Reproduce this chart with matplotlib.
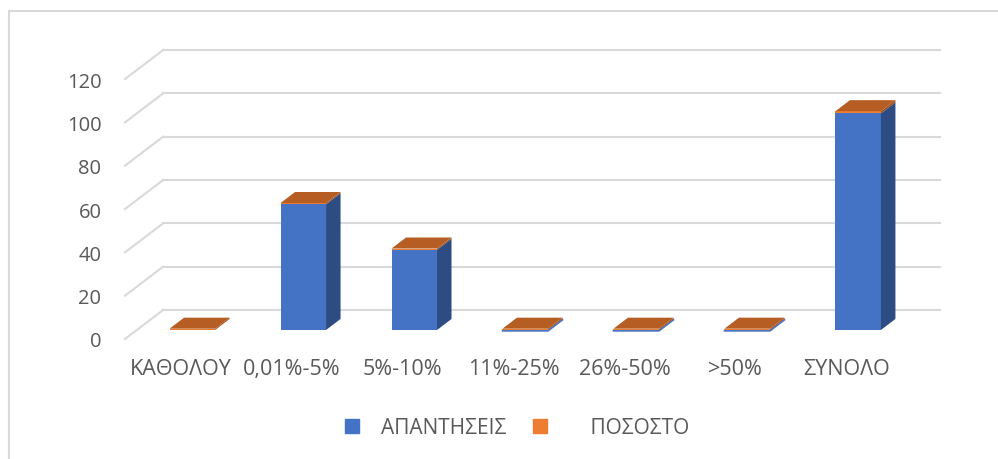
import matplotlib
matplotlib.use("Agg")
import matplotlib.pyplot as plt
from matplotlib.patches import Polygon, Rectangle
from matplotlib.lines import Line2D

# data
categories = ["ΚΑΘΟΛΟΥ", "0,01%-5%", "5%-10%", "11%-25%", "26%-50%", ">50%", "ΣΥΝΟΛΟ"]
answers = [0, 58, 37, 0, 0, 0, 100]
percent = [0, 0.58, 0.37, 0, 0, 0, 1.0]
yticks = [0, 20, 40, 60, 80, 100, 120]

# pseudo 3d settings (in data units)
DX = 0.344      # depth offset along x
DY = 13.4       # depth offset along y
F0 = 0.31       # bar front position in depth
FD = 0.38       # bar depth
W = 0.41        # bar width

BLUE = "#4472C4"
BLUE_SIDE = "#2E4C84"
ORANGE = "#ED7D31"
ORANGE_TOP = "#B55D22"
ORANGE_SIDE = "#9C4E1A"
GRID = "#D9D9D9"
TXT = "#595959"

plt.rcParams['font.family'] = ['Open Sans', 'DejaVu Sans']

fig = plt.figure(figsize=(9.98, 4.6), dpi=100)
ax = fig.add_axes([125 / 998, (460 - 340) / 460, 815 / 998, 289 / 460])
ax.set_xlim(-0.5, 6.5 + DX)
ax.set_ylim(0, 120 + DY)
for s in ax.spines.values():
    s.set_visible(False)

# back wall gridlines + diagonal floor lines
x0, x1 = -0.5, len(categories) - 0.5
for v in yticks:
    ax.plot([x0 + DX, x1 + DX], [v + DY, v + DY], color=GRID, lw=1.5, zorder=1, clip_on=False)
    ax.plot([x0, x0 + DX], [v, v + DY], color=GRID, lw=1.5, zorder=1, clip_on=False)


def draw_block(xl, yb, h, front, side, top, z):
    xr = xl + W
    yt = yb + h
    ox, oy = FD * DX, FD * DY
    if h > 0:
        ax.add_patch(Rectangle((xl, yb), W, h, facecolor=front, edgecolor='none', zorder=z))
        ax.add_patch(Polygon([(xr, yb), (xr + ox, yb + oy), (xr + ox, yt + oy), (xr, yt)],
                             facecolor=side, edgecolor='none', zorder=z))
    if top is not None:
        ax.add_patch(Polygon([(xl, yt), (xl + ox, yt + oy), (xr + ox, yt + oy), (xr, yt)],
                             facecolor=top, edgecolor='none', zorder=z + 0.5))


for i, (a, p) in enumerate(zip(answers, percent)):
    xl = i - W / 2 + F0 * DX
    yb = F0 * DY
    if 0 < i < 6 and a == 0:
        # thin blue rim under flat bars
        ax.plot([xl, xl + W, xl + W + FD * DX], [yb - 0.4, yb - 0.4, yb - 0.4 + FD * DY],
                color=BLUE, lw=1.2, zorder=2)
    draw_block(xl, yb, a, BLUE, BLUE_SIDE, None, 3)
    draw_block(xl, yb + a, max(p, 0.6), ORANGE, ORANGE_SIDE, ORANGE_TOP, 4)

ax.set_yticks(yticks)
ax.set_yticklabels([str(v) for v in yticks])
ax.set_xticks(range(len(categories)))
ax.set_xticklabels(categories)
ax.tick_params(axis='both', length=0, colors=TXT)
ax.tick_params(axis='y', pad=17, labelsize=14.5)
ax.tick_params(axis='x', pad=14, labelsize=15.5)

handles = [Line2D([], [], marker='s', ls='none', color=BLUE, markersize=10),
           Line2D([], [], marker='s', ls='none', color=ORANGE, markersize=10)]
fig.legend(handles, ["ΑΠΑΝΤΗΣΕΙΣ", "    ΠΟΣΟΣΤΟ"], loc='center', bbox_to_anchor=(510 / 998, 1 - 429 / 460),
           ncol=2, frameon=False, fontsize=15, labelcolor=TXT, handletextpad=0.4, columnspacing=0.6)

# chart border
fig.add_artist(Rectangle((9 / 998, -0.1), 1.2, 1 - 12 / 460 + 0.1, transform=fig.transFigure,
                         facecolor='none', edgecolor=GRID, lw=1.5))

fig.savefig("out.png", dpi=100)
